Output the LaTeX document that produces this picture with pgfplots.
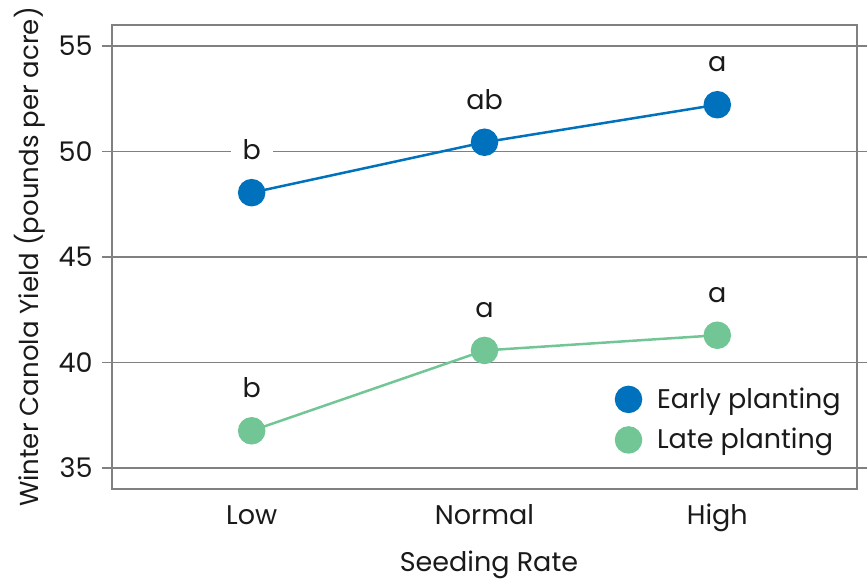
\documentclass[border=0pt]{standalone}
\usepackage{fontspec}
\setmainfont{Poppins}
\usepackage{pgfplots}
\pgfplotsset{compat=1.18}
\definecolor{early}{RGB}{0,113,188}
\definecolor{late}{RGB}{114,198,149}
\definecolor{gridgray}{RGB}{128,128,128}
\definecolor{txt}{RGB}{26,26,26}
\newcommand{\chartfont}{\fontsize{13.5}{16}\selectfont}
\begin{document}
\begin{tikzpicture}
\begin{axis}[
  scale only axis, width=372.5pt, height=232pt,
  xmin=-0.6, xmax=2.6, ymin=34, ymax=56,
  xtick={0,1,2}, xticklabels={Low,Normal,High},
  ytick={35,40,45,50,55},
  ymajorgrids, grid style={gridgray, line width=0.75pt},
  axis line style={gridgray, line width=0.75pt},
  tick align=outside, major tick length=5pt,
  ytick style={gridgray, line width=0.75pt},
  xtick style={draw=none},
  tick label style={font=\chartfont, text=txt},
  xticklabel style={anchor=base, yshift=-13pt},
  yticklabel style={anchor=east, inner sep=0pt, xshift=-4.5pt},
  /pgf/number format/assume math mode=true,
  xlabel={Seeding Rate}, ylabel={Winter Canola Yield (pounds per acre)},
  label style={font=\chartfont, text=txt},
  xlabel style={at={(axis description cs:0.506,-0.164)}, anchor=center},
  ylabel style={at={(axis description cs:-0.11,0.5)}, anchor=center, font=\fontsize{13}{16}\selectfont},
  legend style={draw=none, fill=none, font=\chartfont, text=txt,
    at={(axis description cs:0.676,0.228)}, anchor=north west,
    inner sep=0pt, row sep=4.5pt,
    /tikz/every odd column/.append style={column sep=6pt}},
  legend cell align=left,
  legend image code/.code={\draw[draw=none, mark=*, mark size=6.25pt, mark options={draw=none}] plot coordinates {(0.22cm,0cm)};},
  every node near coord/.style={anchor=base, yshift=16.5pt, fill=white, inner xsep=6pt, inner ysep=2pt, font=\chartfont, text=txt},
]
\addplot[early, line width=1.25pt, mark=*, mark size=6.25pt, mark options={draw=none, fill=early},
  nodes near coords, point meta=explicit symbolic]
  coordinates {(0,48.05)[b] (1,50.44)[ab] (2,52.22)[a]};
\addlegendentry{Early planting}
\addplot[late, line width=1.25pt, mark=*, mark size=6.25pt, mark options={draw=none, fill=late},
  nodes near coords, point meta=explicit symbolic]
  coordinates {(0,36.76)[b] (1,40.57)[a] (2,41.29)[a]};
\addlegendentry{Late planting}
\end{axis}
\pgfresetboundingbox
\path ([shift={(-56pt,-49.5pt)}]current axis.south west) rectangle ([shift={(5.5pt,12.5pt)}]current axis.north east);
\end{tikzpicture}
\end{document}
